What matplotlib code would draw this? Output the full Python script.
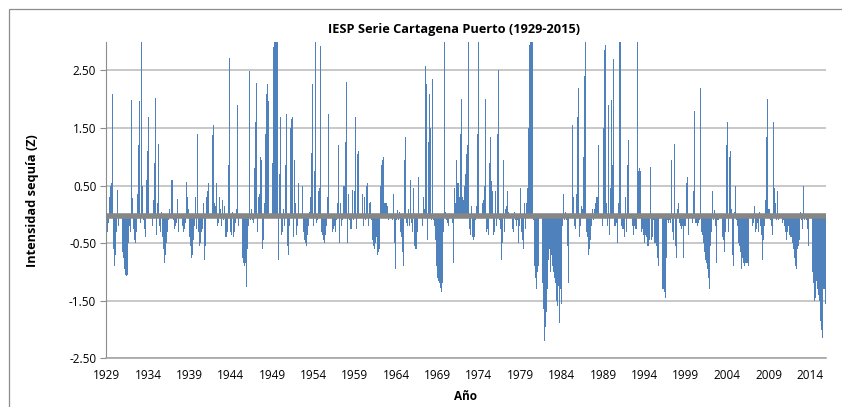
import matplotlib
matplotlib.use("Agg")
import matplotlib.pyplot as plt
import numpy as np
from matplotlib.patches import Rectangle

# IESP values, 8 steps per year (1.5 months)
iesp_1929_1943 = [
    -0.2, -0.3, -0.15, 0.3, 0.5, 0.55, 2.1, -0.6, -0.9, -0.7,
    -0.3, 0.43, -0.2, 0.1, -0.3, -0.65, -0.75, -0.95, -1.05, -1.07,
    -1.05, -0.5, -0.2, -0.3, 1.98, 0.28, -0.25, -0.45, -0.5, -0.3,
    0.35, 1.2, 1.97, -0.15, 3.0, 0.5, -0.1, -0.25, -0.4, 0.6,
    1.1, 1.7, -0.3, -0.4, -0.2, 0.25, 0.9, 2.03, -0.35, 0.2,
    1.23, -0.2, -0.3, 0.05, -0.4, -0.6, -0.85, -0.7, -0.5, -0.3,
    -0.1, 0.1, -0.05, 0.6, 0.6, -0.1, -0.25, -0.2, -0.15, 0.27,
    -0.3, -0.2, -0.35, -0.2, -0.3, -0.25, -0.15, 0.57, 0.3, 0.1,
    -0.4, -0.55, -0.75, -0.7, -0.45, -0.2, 0.3, -0.25, 1.39, -0.3,
    -0.55, -0.5, -0.3, -0.25, 0.2, -0.8, -0.55, 0.3, 0.4, 0.55,
    0.45, 0.6, 1.38, 1.55, 0.2, 0.15, 0.55, -0.2, -0.15, 0.3,
    0.1, -0.2, 0.25, -0.1, 0.15, -0.4,
]
iesp_1943_1958 = [
    -0.4, -0.3, 0.85, 2.71, -0.3, -0.35, 0.05, -0.4, -0.3, -0.15,
    0.1, 1.9, -0.2, -0.35, -0.6, -0.75, -0.85, -0.9, -0.85, -1.27,
    -0.6, -0.2, 2.49, -0.1, 0.1, -0.1, -0.15, 0.8, 1.6, 2.28,
    -0.3, 0.3, 0.35, 1.0, 0.95, -0.6, -0.45, 0.2, 1.4, 2.1,
    2.27, 1.97, -0.4, 0.3, 0.9, 2.9, 3.0, 3.0, 3.0, 3.0,
    -0.8, 0.7, 1.7, -0.35, -0.3, 0.1, -0.2, 0.85, 1.75, -0.55,
    -0.7, -0.2, 1.5, 1.65, 1.7, -0.4, 0.95, 0.2, -0.35, -0.2,
    0.55, -0.15, 0.1, 0.5, -0.3, -0.45, -0.5, -0.55, -0.35, -0.2,
    0.05, 0.3, 1.06, 2.26, -0.2, 0.75, 2.99, -0.15, -0.1, 0.4,
    0.45, 2.93, -0.3, -0.35, -0.45, -0.5, -0.35, -0.2, 0.3, 1.75,
    3.0, -0.2, -0.3, -0.25, -0.2, -0.3, -0.1, 0.2, 1.2, -0.5,
    0.2, -0.2, -0.1, 0.5, 0.5, 1.25, 2.3,
]
iesp_1958_1972 = [
    -0.5, 0.35, -0.1, -0.25, -0.25, 0.42, -0.1, 0.4, 1.7, -0.25,
    1.05, 1.1, 1.0, 0.5, 0.35, -0.2, 0.3, -0.1, 0.5, 0.55,
    -0.2, 0.2, 0.22, -0.1, -0.45, -0.55, -0.6, -0.5, -0.4, -0.7,
    -0.65, -0.6, 0.5, 0.85, 0.95, 1.0, 0.2, 0.2, 0.2, 0.15,
    -0.1, -0.2, -0.25, -0.1, 0.35, -0.5, -0.95, -0.1, 0.07, -0.1,
    0.05, -0.3, -0.4, -0.65, -0.9, 0.95, 1.35, -0.15, -0.2, 0.1,
    -0.2, 0.6, -0.15, -0.3, 0.45, -0.55, -0.6, -0.6, -0.3, 0.65,
    -0.55, -0.65, -0.2, 0.3, 0.1, 2.57, 2.27, -0.45, 1.25, 2.1,
    1.5, -0.1, 2.36, -0.1, -0.2, -0.45, -0.9, -1.1, -1.15, -1.2,
    -1.28, -1.35, -1.2, -0.3, 3.0, 0.05, -0.1, -0.15, -0.2, -0.2,
    -0.35, -0.15, -0.85, 0.45, 0.2, 0.95, 0.55, 0.55, 0.3, 1.4,
    2.0, 0.3, 0.25, 0.5, 0.7, 1.05, 1.2,
]
iesp_1972_1987 = [
    3.0, -0.25, -0.35, 0.15, -0.4, -0.45, -0.4, -0.1, 0.15, 1.4,
    3.0, 0.3, 1.5, 0.2, 0.25, 0.5, 2.0, -0.3, -0.25, -0.35,
    0.9, 1.35, 0.58, 0.4, -0.35, -0.3, 0.4, -0.2, 1.4, 2.5,
    -0.1, -0.25, -0.8, -0.5, 0.95, -0.3, 0.1, 0.15, 0.4, 0.05,
    -0.3, -0.2, -0.25, -0.3, 0.05, -0.1, -0.2, -0.1, -0.5, -0.2,
    0.45, -0.3, -0.45, -0.6, 0.2, -0.25, 0.2, 0.45, 1.5, 2.95,
    3.0, 3.0, 3.0, -0.1, -0.9, -1.1, -1.3, -1.0, -0.9, -0.95,
    -1.05, -1.2, -1.65, -2.2, -1.95, -1.7, -1.3, -0.8, -0.6, -1.0,
    -0.7, -0.9, -1.0, -1.1, -1.2, -1.5, -1.6, -1.25, -1.88, -1.3,
    -1.55, -0.2, 0.35, -0.1, 0.05, -0.1, -0.55, -1.2, 0.2, 1.39,
    1.55, 0.3, -0.2, -0.25, 0.35, 1.7, 2.2, -0.4, -0.2, 0.15,
    0.1, 1.0, 2.4, 3.0, -0.3, -0.4, -0.7,
]
iesp_1987_2002 = [
    -0.6, -0.45, -0.2, 0.1, -0.1, 0.1, 0.2, 0.3, 0.3, 1.2,
    -0.2, -0.25, -0.2, 1.5, 2.85, 2.95, 0.2, -0.2, 1.9, -0.35,
    0.45, 1.98, 0.85, 2.7, -0.2, -0.2, -0.15, -0.5, 0.2, 3.0,
    3.0, -0.2, -0.25, -0.25, -0.4, 0.3, -0.3, 0.85, 1.3, 1.07,
    1.75, -0.2, -0.35, -0.2, -0.25, -0.25, 3.0, 0.75, 0.8, 0.75,
    -0.3, -0.25, -0.35, -0.5, -0.35, -0.4, -0.55, -0.55, -0.45, 0.83,
    -0.45, -0.4, -0.1, -0.5, -0.5, -0.55, -0.75, -0.9, -1.2, -1.05,
    -1.3, -1.3, -1.35, -1.45, -0.75, -0.1, -0.15, -0.1, -0.15, 0.95,
    -0.3, -0.45, 1.22, -0.55, -0.75, 0.1, 0.2, -0.15, -0.2, -0.25,
    -0.2, -0.75, -0.2, -0.2, 0.55, 0.65, -0.35, -0.4, -0.2, -0.15,
    0.4, 1.8, -0.15, -0.15, -0.2, -0.15, -0.1, 2.2, -0.3, -0.35,
    -0.5, -0.65, -0.8, -0.85, -0.95, -1.1, -1.3,
]
iesp_2002_2015 = [
    -0.55, -0.3, 0.4, -0.1, 0.08, -0.2, -0.85, -0.1, -0.1, -0.2,
    -0.3, -0.4, -0.45, -0.65, -0.3, 1.2, 1.6, -0.3, 1.0, 1.1,
    0.1, -0.7, -0.9, 0.05, 0.5, -0.1, -0.2, -0.5, -0.55, -0.65,
    -0.95, -0.75, -0.85, -0.9, -0.85, -0.85, -0.85, -0.9, -1.55, -0.9,
    -0.2, -0.15, 0.15, -0.3, -0.25, -0.15, -0.3, 0.05, -0.2, -0.35,
    -0.8, -0.45, -0.2, 0.25, 1.35, 2.0, 0.1, 0.1, -0.1, -0.2,
    -0.35, 1.6, 0.45, 0.2, -0.1, 0.4, -0.1, 0.25, 0.2, -0.15,
    -0.1, -0.2, -0.3, -0.45, -0.3, -0.2, -0.35, -0.4, -0.4, -0.5,
    -0.6, -0.75, -0.9, -0.95, -0.6, -0.55, -0.45, 0.05, -0.1, -0.25,
    0.5, -0.1, -0.05, -0.1, -0.25, -0.55, -0.7, -0.9, -1.0, -1.2,
    -1.5, -1.45, -1.15, -1.3, -1.4, -1.5, -1.85, -2.0, -2.15, -1.3,
    -1.3, -1.55,
]

steps_per_year = 8
tick_years = list(range(1929, 2015, 5))
y_ticks = [-2.5, -1.5, -0.5, 0.5, 1.5, 2.5]

iesp = np.array(iesp_1929_1943 + iesp_1943_1958 + iesp_1958_1972
                + iesp_1972_1987 + iesp_1987_2002 + iesp_2002_2015)
x = np.arange(len(iesp))

W, H = 842, 407
fig = plt.figure(figsize=(W / 100, H / 100), dpi=100)
fig.patch.set_facecolor("white")

# chart area border (only top and left visible in the crop)
fig.add_artist(Rectangle((8.5 / W, -0.1), 1.2, 1.1 - 8.5 / H,
                         transform=fig.transFigure, fill=False,
                         edgecolor="#8c8c8c", lw=0.9))

ax = fig.add_axes([106 / W, 1 - 358.3 / H, 720 / W, 316.6 / H])
ax.bar(x, iesp, width=0.9, color="#4F81BD", linewidth=0, zorder=2)
ax.axhline(-0.03, color="#868686", lw=4.0, zorder=3)

ax.set_xlim(-0.5, len(iesp) - 0.5)
ax.set_ylim(-2.5, 3.0)
ax.set_yticks(y_ticks)
ax.set_yticklabels([f"{v:.2f}" for v in y_ticks])
ax.set_xticks([(y - 1929) * steps_per_year for y in tick_years])
ax.set_xticklabels([str(y) for y in tick_years])

ax.grid(axis="y", color="#c4c4c4", lw=1.3, zorder=1)
ax.set_axisbelow(True)
for s in ["top", "right"]:
    ax.spines[s].set_visible(False)
ax.spines["left"].set_color("#8c8c8c")
ax.spines["bottom"].set_color("#a6a6a6")
ax.spines["bottom"].set_linewidth(1.2)

for lab in ax.get_xticklabels() + ax.get_yticklabels():
    lab.set_fontfamily("Open Sans")
    lab.set_fontsize(8.5)
ax.tick_params(axis="x", length=0, pad=8)
ax.tick_params(axis="y", length=4, color="#8c8c8c", pad=3)

fig.text(454 / W, 1 - 30 / H, "IESP Serie Cartagena Puerto (1929-2015)",
         ha="center", va="center", fontsize=9.2, fontweight="bold",
         family="Open Sans")
fig.text(33 / W, 1 - 201 / H, "Intensidad sequía (Z)", rotation=90,
         ha="center", va="center", fontsize=9.2, fontweight="bold",
         family="Open Sans")
fig.text(466 / W, 1 - 396 / H, "Año", ha="center", va="center",
         fontsize=8.5, fontweight="bold", family="Open Sans")

fig.savefig("out.png", dpi=100, facecolor="white")
